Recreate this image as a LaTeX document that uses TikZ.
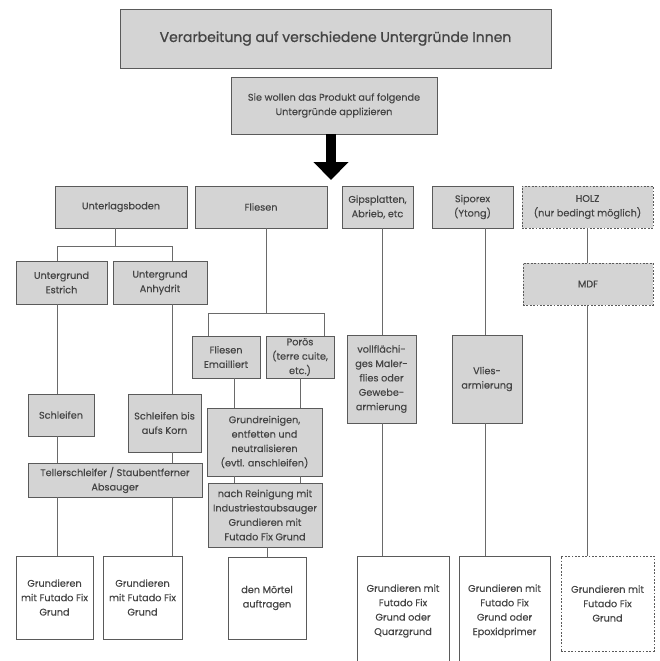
\documentclass[tikz,border=0pt]{standalone}
\usepackage{fontspec}
\setmainfont[FakeBold=0.25]{Poppins}
\newfontfamily\titlefont[FakeBold=0.9]{Poppins}
\usetikzlibrary{arrows.meta}
\definecolor{boxfill}{HTML}{D4D4D4}
\definecolor{boxline}{HTML}{5A5A5A}
\definecolor{txt}{HTML}{444444}
\definecolor{conn}{HTML}{6A6A6A}
\begin{document}
\begin{tikzpicture}[x=1pt,y=-1pt,
  box/.style={draw=boxline, fill=boxfill, line width=0.9pt, inner sep=0pt, align=center,
    text=txt, font=\fontsize{9.7}{14.4}\selectfont},
  wbox/.style={box, fill=white},
  dbox/.style={box, dash pattern=on 1.8pt off 1.6pt},
  wdbox/.style={wbox, dash pattern=on 1.8pt off 1.6pt},
  conline/.style={draw=conn, line width=0.9pt},
  sz/.style 2 args={minimum width=#1pt, minimum height=#2pt}]
\useasboundingbox (0,0) rectangle (660,661);
\fill[white] (0,0) rectangle (660,661);

% header
\node[box, sz={431}{59}, font=\titlefont\fontsize{14}{16}\selectfont] (title) at (335.5,38.5) {Verarbeitung auf verschiedene Untergründe Innen};
\node[box, sz={206}{57}] (sub) at (334,105.5) {Sie wollen das Produkt auf folgende\\Untergründe applizieren};
\coordinate (tip) at (331,180);
\draw[line width=9.5pt, -{Triangle[width=34pt,length=18pt]}] (sub.south -| tip) -- (tip);

% level 1
\node[box, sz={132}{42}] (ulb) at (121,207) {Unterlagsboden};
\node[box, sz={132}{42}] (fl) at (261,207) {Fliesen};
\node[box, sz={71}{42}] (gips) at (377.5,207) {Gipsplatten,\\Abrieb, etc};
\node[box, sz={81}{42}] (sip) at (472.5,207) {Siporex\\(Ytong)};
\node[dbox, sz={131}{42}] (holz) at (587.5,207) {HOLZ\\(nur bedingt möglich)};

% Unterlagsboden branch
\node[box, sz={91}{43}] (est) at (61.5,282.5) {Untergrund\\Estrich};
\node[box, sz={94}{43}] (anh) at (160,282.5) {Untergrund\\Anhydrit};
\node[box, sz={66}{42}] (schl) at (61,415) {Schleifen};
\node[box, sz={73}{58}] (schlk) at (164.5,423) {Schleifen bis\\aufs Korn};
\node[box, sz={174}{34}] (teller) at (115,480) {Tellerschleifer / Staubentferner\\Absauger};
\node[wbox, sz={77}{83}] (gb1) at (54.5,597.5) {Grundieren\\mit Futado Fix\\Grund};
\node[wbox, sz={79}{83}] (gb2) at (142.5,597.5) {Grundieren\\mit Futado Fix\\Grund};

% Fliesen branch
\node[box, sz={68}{42}] (emai) at (226,357) {Fliesen\\Emailliert};
\node[box, sz={68}{42}] (poros) at (300,357) {Porös\\(terre cuite,\\etc.)};
\node[box, sz={115}{68}] (grund) at (264.5,442) {Grundreinigen,\\entfetten und\\neutralisieren\\(evtl. anschleifen)};
\node[box, sz={114}{64}] (nach) at (265,515) {nach Reinigung mit\\Industriestaubsauger\\Grundieren mit\\Futado Fix Grund};
\node[wbox, sz={78}{82}] (mortel) at (267,598) {den Mörtel\\auftragen};

% Gips / Siporex / Holz
\node[box, sz={69}{88}] (voll) at (381.5,379) {vollflächi-\\ges Maler-\\flies oder\\Gewebe-\\armierung};
\node[box, sz={70}{88}] (vlies) at (487,379) {Vlies-\\armierung};
\node[wbox, sz={92}{110}] (gb3) at (403,611) {Grundieren mit\\Futado Fix\\Grund oder\\Quarzgrund};
\node[wbox, sz={91}{110}] (gb4) at (504.5,611) {Grundieren mit\\Futado Fix\\Grund oder\\Epoxidprimer};
\node[dbox, sz={130}{42}] (mdf) at (588,284) {MDF};
\node[wdbox, sz={93}{95}] (gb5) at (607.5,603.5) {Grundieren mit\\Futado Fix\\Grund};

% x positions of connectors
\coordinate (xa) at (57,0);
\coordinate (xb) at (172,0);
\coordinate (xc) at (208,0);
\coordinate (xd) at (324,0);
\coordinate (xe) at (234,0);
\coordinate (xf) at (300,0);
\coordinate (xg) at (267,0);
\coordinate (xh) at (382,0);
\coordinate (xi) at (485,0);
\coordinate (xj) at (587,0);
\coordinate (ju) at (115,246);
\coordinate (jf) at (266,313);

% connectors
\draw[conline] (ulb.south -| ju) -- (ju);
\draw[conline] (ju -| xa) -- (ju -| xb);
\draw[conline] (ju -| xa) -- (est.north -| xa);
\draw[conline] (ju -| xb) -- (anh.north -| xb);
\draw[conline] (est.south -| xa) -- (schl.north -| xa);
\draw[conline] (schl.south -| xa) -- (teller.north -| xa);
\draw[conline] (teller.south -| xa) -- (gb1.north -| xa);
\draw[conline] (anh.south -| xb) -- (schlk.north -| xb);
\draw[conline] (schlk.south -| xb) -- (teller.north -| xb);
\draw[conline] (teller.south -| xb) -- (gb2.north -| xb);

\draw[conline] (fl.south -| jf) -- (jf);
\draw[conline] (jf -| xc) -- (jf -| xd);
\draw[conline] (jf -| xc) -- (emai.north -| xc);
\draw[conline] (jf -| xd) -- (poros.north -| xd);
\draw[conline] (emai.south -| xe) -- (grund.north -| xe);
\draw[conline] (poros.south -| xf) -- (grund.north -| xf);
\draw[conline] (grund.south -| xe) -- (nach.north -| xe);
\draw[conline] (grund.south -| xf) -- (nach.north -| xf);
\draw[conline] (nach.south -| xg) -- (mortel.north -| xg);

\draw[conline] (gips.south -| xh) -- (voll.north -| xh);
\draw[conline] (voll.south -| xh) -- (gb3.north -| xh);
\draw[conline] (sip.south -| xi) -- (vlies.north -| xi);
\draw[conline] (vlies.south -| xi) -- (gb4.north -| xi);
\draw[conline] (holz.south -| xj) -- (mdf.north -| xj);
\draw[conline] (mdf.south -| xj) -- (gb5.north -| xj);
\end{tikzpicture}
\end{document}
